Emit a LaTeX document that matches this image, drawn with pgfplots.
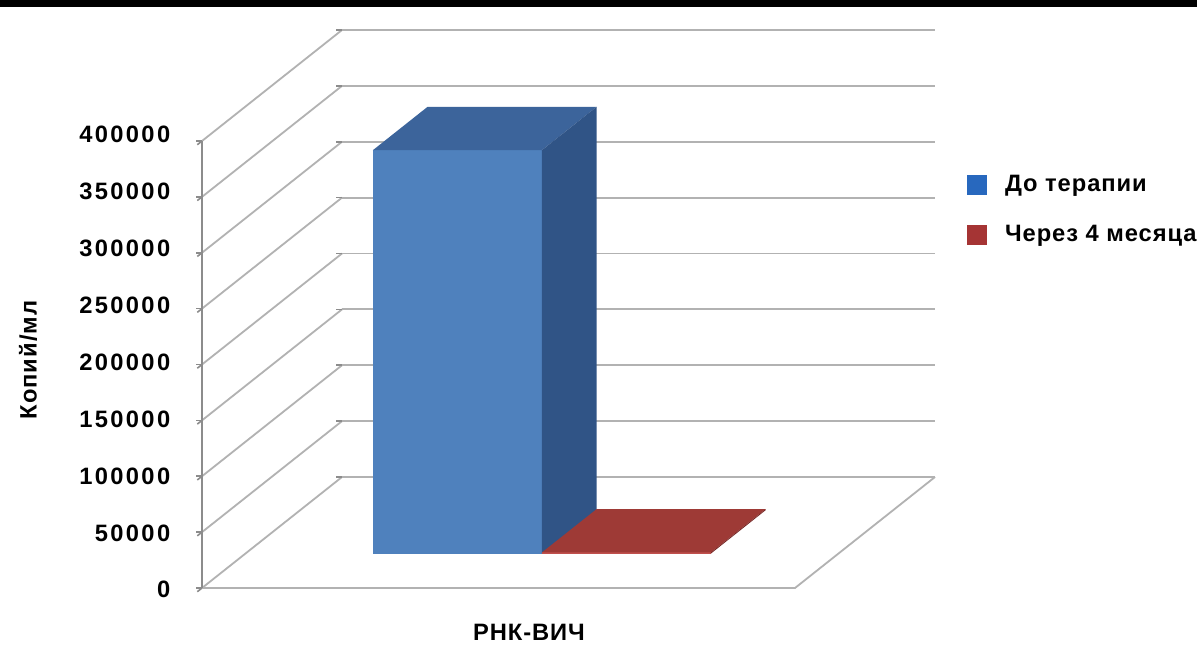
\documentclass[border=0pt]{standalone}
\usepackage{pgfplots}
\pgfplotsset{compat=1.18}
\usepackage{fontspec}
\setmainfont{Liberation Sans}[LetterSpace=4]
\newfontfamily\tickfont{Liberation Sans}[LetterSpace=10]
\definecolor{bfront}{RGB}{79,129,189}
\definecolor{btop}{RGB}{60,100,155}
\definecolor{bside}{RGB}{48,84,134}
\definecolor{rfront}{RGB}{192,80,77}
\definecolor{rtop}{RGB}{158,58,54}
\definecolor{rside}{RGB}{120,40,38}
\definecolor{legblue}{RGB}{40,104,190}
\definecolor{legred}{RGB}{165,52,52}
\definecolor{gridc}{RGB}{178,178,178}
\definecolor{axc}{RGB}{140,140,140}
\begin{document}
\begin{tikzpicture}
\useasboundingbox (0,0) rectangle (598.5bp,324.5bp);
\clip (0,0) rectangle (598.5bp,324.5bp);
\fill[white] (0,0) rectangle (598.5bp,324.5bp);
\fill[black] (0,321bp) rectangle (598.5bp,324.5bp);
\begin{axis}[
  at={(249.25bp,30.5bp)}, anchor=origin,
  x={(148.25bp,0bp)}, y={(70bp,55.5bp)}, z={(0bp,0.55875bp)},
  xmin=-1,xmax=1,ymin=0,ymax=1,zmin=0,zmax=400,
  z filter/.expression={z/1000},
  clip=false,
  axis line style={draw=none},
  xtick=\empty, ytick=\empty,
  ztick={0,50,100,150,200,250,300,350,400},
  zticklabels={0,50000,100000,150000,200000,250000,300000,350000,400000},
  ztick pos=left,
  zmajorgrids,
  major grid style={gridc, line width=0.9bp},
  tick align=outside,
  major tick length=3bp,
  tick style={axc, line width=0.8bp},
  z tick label style={font={\fontsize{11.9}{14}\selectfont\tickfont\bfseries}, anchor=east, xshift=-10bp, yshift={1bp+\ticknum*0.5bp}},
  legend image code/.code={\fill[#1] (0bp,-5bp) rectangle (10bp,5bp); \path (17bp,0bp);},
  legend cell align=left,
  legend style={draw=none, fill=none, at={(axis description cs:1.035,0.754)}, anchor=north west,
    font={\fontsize{11.9}{14}\selectfont\bfseries}, row sep=11bp},
]
\addlegendimage{fill=legblue, draw=none}
\addlegendentry{До терапии}
\addlegendimage{fill=legred, draw=none}
\addlegendentry{Через 4 месяца}
% floor edges
\draw[gridc, line width=0.9bp] (axis cs:-1,0,0) -- (axis cs:1,0,0) -- (axis cs:1,1,0);
% blue bar: 361000
\addplot3[fill=bfront, draw=none, forget plot] coordinates {(-0.57,0.31,0) (0,0.31,0) (0,0.31,361000) (-0.57,0.31,361000)};
\addplot3[fill=btop, draw=none, forget plot] coordinates {(-0.57,0.31,361000) (0,0.31,361000) (0,0.70,361000) (-0.57,0.70,361000)};
\addplot3[fill=bside, draw=none, forget plot] coordinates {(0,0.31,0) (0,0.70,0) (0,0.70,361000) (0,0.31,361000)};
% red bar: 1000
\addplot3[fill=rfront, draw=none, forget plot] coordinates {(0,0.31,0) (0.57,0.31,0) (0.57,0.31,1000) (0,0.31,1000)};
\addplot3[fill=rtop, draw=none, forget plot] coordinates {(0,0.31,1000) (0.57,0.31,1000) (0.57,0.70,1000) (0,0.70,1000)};
\addplot3[fill=rside, draw=none, forget plot] coordinates {(0.57,0.31,0) (0.57,0.70,0) (0.57,0.70,1000) (0.57,0.31,1000)};
\end{axis}
% front-left vertical axis line (x=-1, depth 0, from 0 to 400000)
\draw[axc, line width=0.9bp] (101bp,30.5bp) -- (101bp,254bp);
\node[rotate=90, font={\fontsize{11.9}{14}\selectfont\bfseries}] at (14bp,144.5bp) {Копий/мл};
\node[font={\fontsize{11.9}{14}\selectfont\bfseries}] at (264.5bp,8.5bp) {РНК-ВИЧ};
\end{tikzpicture}
\end{document}
